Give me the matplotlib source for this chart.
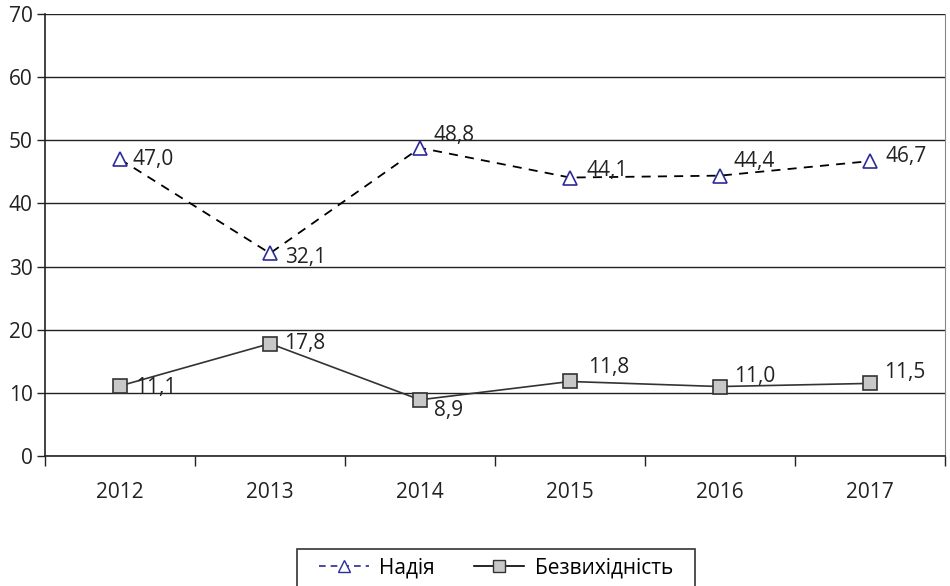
import matplotlib
matplotlib.use("Agg")
import matplotlib.pyplot as plt
from matplotlib.lines import Line2D
from matplotlib.patches import Rectangle

plt.rcParams['font.family'] = ['Open Sans', 'DejaVu Sans']

years = ["2012", "2013", "2014", "2015", "2016", "2017"]
hope = [47.0, 32.1, 48.8, 44.1, 44.4, 46.7]
despair = [11.1, 17.8, 8.9, 11.8, 11.0, 11.5]
series_names = ["Надія", "Безвихідність"]

# label offsets in points (dx, dy)
hope_off = [(9, 0), (11, -3), (10, 9), (12, 5), (10, 10), (11, 3)]
despair_off = [(11, -1), (10, 0), (10, -8), (13, 10), (10, 7), (10, 8)]

FS = 15

fig = plt.figure(figsize=(9.5, 5.86), dpi=100)
ax = fig.add_axes([45/950, 1-456/586, 900/950, 442/586])

x = list(range(len(years)))
ax.plot(x, hope, linestyle=(0, (5, 4)), color='black', lw=1.3, zorder=3)
ax.plot(x, hope, linestyle='none', marker='^', markersize=10, markerfacecolor='white',
        markeredgecolor='#2b2b99', markeredgewidth=1.2, zorder=4)
ax.plot(x, despair, linestyle='-', color='#333333', lw=1.2, marker='s', markersize=10,
        markerfacecolor='#c8c8c8', markeredgecolor='#333333', markeredgewidth=1.2, zorder=4)

def fmt(v):
    return f"{v:.1f}".replace('.', ',')

for i, v in enumerate(hope):
    ax.annotate(fmt(v), (i, v), xytext=hope_off[i], textcoords='offset points',
                ha='left', va='center', fontsize=FS, color='#222222', zorder=5)
for i, v in enumerate(despair):
    ax.annotate(fmt(v), (i, v), xytext=despair_off[i], textcoords='offset points',
                ha='left', va='center', fontsize=FS, color='#222222', zorder=5)

ax.set_xlim(-0.5, len(years) - 0.5)
ax.set_ylim(0, 70)
ax.set_yticks(range(0, 71, 10))
ax.yaxis.grid(True, color='#222222', lw=1.0)
ax.set_axisbelow(True)
ax.tick_params(axis='y', length=6, width=1, labelsize=FS, pad=3, colors='#222222')
ax.set_xticks(x)
ax.set_xticklabels(years)
ax.tick_params(axis='x', length=0, labelsize=FS, pad=19, colors='#222222')
ax.set_xticks([i - 0.5 for i in range(len(years) + 1)], minor=True)
ax.tick_params(axis='x', which='minor', length=7, width=1, color='#222222')
for s in ['left', 'bottom']:
    ax.spines[s].set_color('#222222')
    ax.spines[s].set_linewidth(1.2)
ax.spines['top'].set_visible(False)
ax.spines['right'].set_color('#888888')

handles = [
    Line2D([], [], linestyle=(0, (4, 3)), color='#2b2b99', lw=1.2, marker='^', markersize=9,
           markerfacecolor='white', markeredgecolor='#2b2b99'),
    Line2D([], [], linestyle='-', color='black', lw=1.2, marker='s', markersize=9,
           markerfacecolor='#c8c8c8', markeredgecolor='#333333'),
]
leg = fig.legend(handles, series_names, loc='center', bbox_to_anchor=(496/950, 1-568/586),
                 ncol=2, frameon=False, fontsize=FS,
                 handlelength=2.4, columnspacing=1.9, borderpad=0.0, handletextpad=0.5)

fig.add_artist(Rectangle((297/950, 1-592/586), 398/950, 43/586, transform=fig.transFigure,
                         facecolor='none', edgecolor='#333333', lw=1.2, clip_on=False))

fig.savefig("out.png", dpi=100)
